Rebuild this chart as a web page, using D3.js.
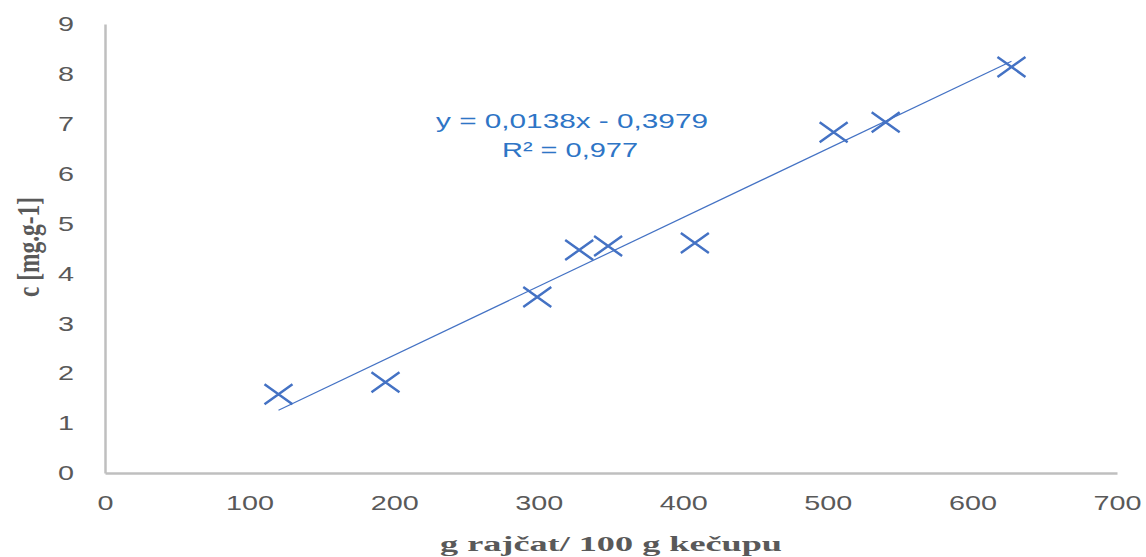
<!DOCTYPE html>
<html>
<head>
<meta charset="utf-8">
<script src="https://cdn.jsdelivr.net/npm/d3@7"></script>
<style>
  body { margin: 0; background: #fff; }
</style>
</head>
<body>
<svg width="1146" height="557"></svg>
<script>
// data
const xValues = [120, 194, 299, 328, 348, 408, 504, 540, 627];
const yValues = [1.58, 1.82, 3.53, 4.47, 4.55, 4.61, 6.83, 7.03, 8.14];
const xTicks = [0, 100, 200, 300, 400, 500, 600, 700];
const yTicks = [0, 1, 2, 3, 4, 5, 6, 7, 8, 9];
const slope = 0.0138, intercept = -0.3979;
const eqLines = ['y = 0,0138x - 0,3979', 'R² = 0,977'];

const svg = d3.select('svg');
const margin = {top: 24, right: 29, left: 105, bottom: 84};
const width = +svg.attr('width'), height = +svg.attr('height');
const innerWidth = width - margin.left - margin.right;
const innerHeight = height - margin.top - margin.bottom;

const xScale = d3.scaleLinear().domain([0, 700]).range([0, innerWidth]);
const yScale = d3.scaleLinear().domain([0, 9]).range([innerHeight, 0]);

const g = svg.append('g').attr('transform', `translate(${margin.left},${margin.top})`);

const blue = '#4472c4';
const gray = '#595959';

// axes
const xAxis = d3.axisBottom(xScale).tickValues(xTicks).tickSize(0).tickPadding(22);
const yAxis = d3.axisLeft(yScale).tickValues(yTicks).tickSize(0).tickPadding(31);

const xg = g.append('g').attr('transform', `translate(0,${innerHeight})`).call(xAxis);
const yg = g.append('g').call(yAxis);

[xg, yg].forEach(a => {
  a.select('.domain').attr('stroke', '#bfbfbf').attr('stroke-width', 2.5);
  a.selectAll('.tick text')
    .attr('fill', gray)
    .attr('font-family', 'Liberation Sans, Arial, sans-serif')
    .attr('font-size', 21)
    .attr('textLength', d => String(d).length * 16)
    .attr('lengthAdjust', 'spacingAndGlyphs');
});
xg.selectAll('.tick text').attr('dy', '0.71em');

// trendline over data range
const xMin = d3.min(xValues), xMax = d3.max(xValues);
g.append('line')
  .attr('x1', xScale(xMin)).attr('y1', yScale(slope * xMin + intercept))
  .attr('x2', xScale(xMax)).attr('y2', yScale(slope * xMax + intercept))
  .attr('stroke', blue).attr('stroke-width', 1.2);

// x markers
const data = xValues.map((x, i) => ({x, y: yValues[i]}));
const hw = 14, hh = 10;
g.selectAll('path.mark')
  .data(data)
  .enter()
  .append('path')
  .attr('class', 'mark')
  .attr('d', d => {
    const cx = xScale(d.x), cy = yScale(d.y);
    return `M${cx - hw},${cy - hh}L${cx + hw},${cy + hh}M${cx - hw},${cy + hh}L${cx + hw},${cy - hh}`;
  })
  .attr('stroke', blue)
  .attr('stroke-width', 2.5)
  .attr('fill', 'none');

// equation label
const eq = svg.append('g').attr('fill', '#2e75c6')
  .attr('font-family', 'Liberation Sans, Arial, sans-serif')
  .attr('font-size', 21)
  .attr('text-anchor', 'middle');
eq.append('text').text(eqLines[0])
  .attr('x', 572).attr('y', 128)
  .attr('textLength', 272).attr('lengthAdjust', 'spacingAndGlyphs');
eq.append('text').text(eqLines[1])
  .attr('x', 570).attr('y', 157)
  .attr('textLength', 136).attr('lengthAdjust', 'spacingAndGlyphs');

// axis titles
svg.append('text')
  .text('g rajčat/ 100 g kečupu')
  .attr('x', 611).attr('y', 551)
  .attr('text-anchor', 'middle')
  .attr('font-family', 'Liberation Serif, Times New Roman, serif')
  .attr('font-weight', 700)
  .attr('font-size', 22)
  .attr('fill', gray)
  .attr('textLength', 342).attr('lengthAdjust', 'spacingAndGlyphs');

//rotated title, widened like the rest of the picture
svg.append('text')
  .text('c [mg.g-1]')
  .attr('transform', 'translate(39,247) scale(1.35,1) rotate(-90)')
  .attr('text-anchor', 'middle')
  .attr('font-family', 'Liberation Serif, Times New Roman, serif')
  .attr('font-weight', 700)
  .attr('font-size', 24)
  .attr('fill', gray)
  .attr('textLength', 100).attr('lengthAdjust', 'spacingAndGlyphs');
</script>
</body>
</html>
